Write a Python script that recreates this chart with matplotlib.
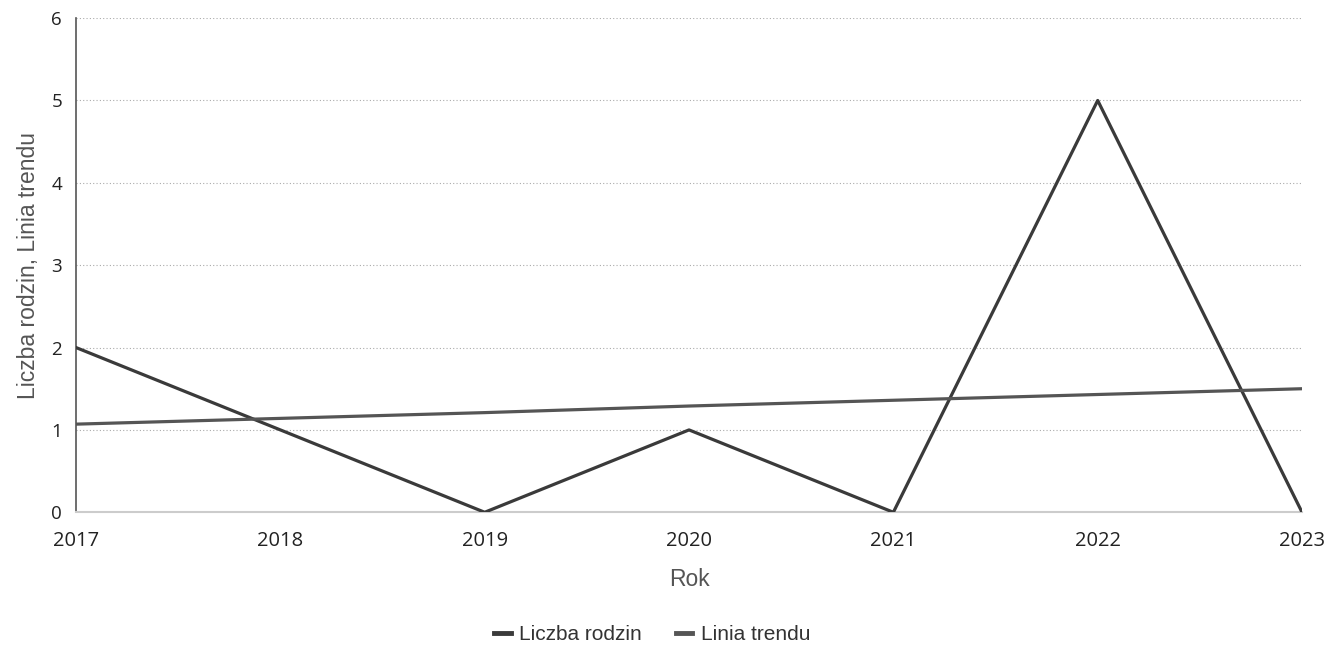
import matplotlib
matplotlib.use("Agg")
import matplotlib.pyplot as plt

# data
years = [2017, 2018, 2019, 2020, 2021, 2022, 2023]
families = [2, 1, 0, 1, 0, 5, 0]
trend = [1.07, 1.14, 1.21, 1.29, 1.36, 1.43, 1.5]

fig = plt.figure(figsize=(13.43, 6.46), dpi=100)
ax = fig.add_axes([0.0566, 0.207, 0.9129, 0.765])

ax.plot(years, families, color='#3a3a3a', linewidth=2.3, label='Liczba rodzin', zorder=3)
ax.plot(years, trend, color='#555555', linewidth=2.3, label='Linia trendu', zorder=3)

ax.set_xlim(2017, 2023)
ax.set_ylim(0, 6)
ax.set_xticks(years)
ax.set_yticks(range(0, 7))
ax.yaxis.grid(True, linestyle=(0, (1, 2)), color='#aaaaaa', linewidth=0.8)
ax.set_axisbelow(True)

for s in ['top', 'right']:
    ax.spines[s].set_visible(False)
ax.spines['left'].set_color('#555555')
ax.spines['left'].set_linewidth(1.2)
ax.spines['bottom'].set_color('#cccccc')
ax.spines['bottom'].set_linewidth(1.5)

ax.tick_params(length=0, colors='#222222')
ax.tick_params(axis='x', pad=13.5, labelsize=14.5)
ax.tick_params(axis='y', pad=10, labelsize=13.5)
for lab in ax.get_xticklabels() + ax.get_yticklabels():
    lab.set_family('Open Sans')

ax.set_xlabel('Rok', fontsize=16.5, color='#555555', family='Liberation Sans', labelpad=12)
ax.set_ylabel('Liczba rodzin, Linia trendu', fontsize=16.5, color='#555555',
              family='Liberation Sans', labelpad=8)

leg = ax.legend(loc='upper center', bbox_to_anchor=(0.47, -0.19), ncol=2, frameon=False,
                handlelength=0.8, handletextpad=0.4, columnspacing=1.6,
                prop={'family': 'Liberation Sans', 'size': 15})
for t in leg.get_texts():
    t.set_color('#333333')
for h in leg.get_lines():
    h.set_linewidth(3.5)

fig.savefig('out.png', dpi=100)
